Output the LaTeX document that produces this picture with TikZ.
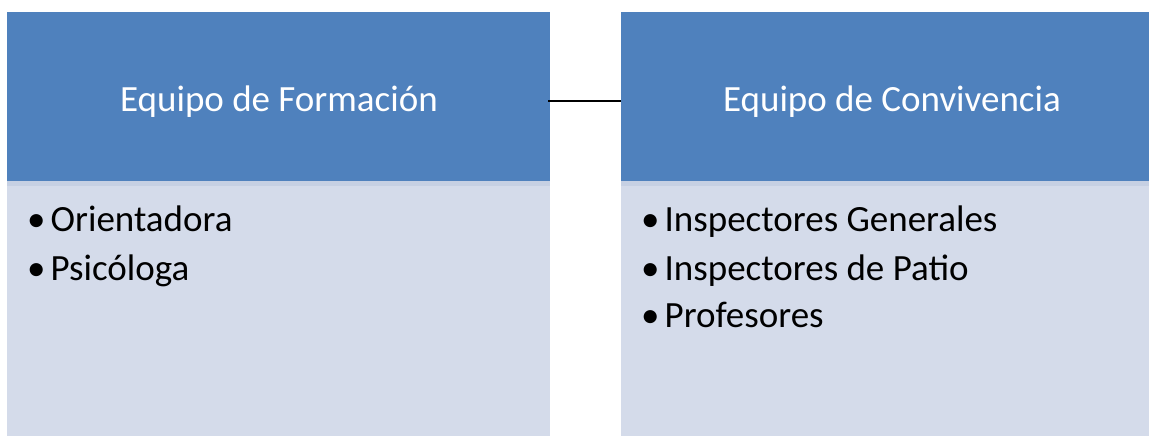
\documentclass[tikz,border=0pt]{standalone}
\usepackage{fontspec}
\setmainfont{Carlito}
\definecolor{hdrblue}{HTML}{4F81BD}
\definecolor{bodyblue}{HTML}{D4DBEA}
\definecolor{stripblue}{HTML}{C6D0E3}
\tikzset{
  hdrbox/.style={rectangle, fill=hdrblue, inner sep=0pt, minimum width=543pt, minimum height=169pt},
  bodybox/.style={rectangle, fill=bodyblue, inner sep=0pt, minimum width=543pt, minimum height=269pt},
  hdrtext/.style={anchor=base, text=white, inner sep=0pt, font=\fontsize{37}{44}\selectfont},
  listtext/.style={anchor=base west, inner sep=0pt, text=black, font=\fontsize{37}{47}\selectfont},
  strip/.style={fill=stripblue},
  link/.style={draw=black, line width=1.3pt}
}
\begin{document}
\begin{tikzpicture}[x=1pt,y=-1pt]
\useasboundingbox (0,0) rectangle (1149,436);
\clip (0,0) rectangle (1149,436);
\node[hdrbox] (hdrL) at (278.5,96.5) {};
\node[bodybox] (bodyL) at (278.5,315.5) {};
\node[hdrbox] (hdrR) at (892.5,96.5) {};
\node[bodybox] (bodyR) at (892.5,315.5) {};
\fill[strip] (bodyL.north west) rectangle ([yshift=-5pt]bodyL.north east);
\fill[strip] (bodyR.north west) rectangle ([yshift=-5pt]bodyR.north east);
\node[hdrtext] (tL) at (279,111) {Equipo de Formación};
\node[hdrtext] (tR) at (892,111) {Equipo de Convivencia};
\node[listtext] (l1) at (27,231) {•\kern5pt Orientadora};
\node[listtext] (l2) at (27,280) {•\kern5pt Psicóloga};
\node[listtext] (r1) at (641,231) {•\kern5pt Inspectores Generales};
\node[listtext] (r2) at (641,280) {•\kern5pt Inspectores de Patio};
\node[listtext] (r3) at (641,327) {•\kern5pt Profesores};
\draw[link] ([yshift=-4.5pt]hdrL.east) ++(-2,0) -- ([yshift=-4.5pt]hdrR.west);
\end{tikzpicture}
\end{document}
